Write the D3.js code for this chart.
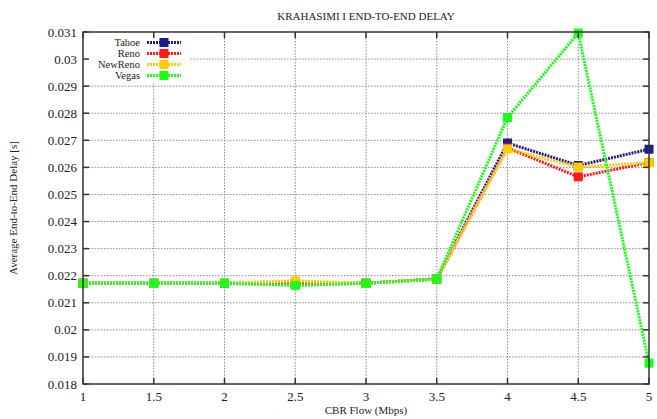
<!DOCTYPE html>
<html>
<head>
<meta charset="utf-8">
<script src="https://cdn.jsdelivr.net/npm/d3@7"></script>
<style>
  body { margin: 0; background: #fff; }
  text { font-family: "Liberation Serif", "Times New Roman", serif; fill: #222; }
</style>
</head>
<body>
<svg id="graphe" width="657" height="419"></svg>
<script>
"use strict";

// données
var debits = [1, 1.5, 2, 2.5, 3, 3.5, 4, 4.5, 5];
var tahoe   = [0.02172, 0.02172, 0.02172, 0.02170, 0.02172, 0.02188, 0.02690, 0.02607, 0.02667];
var reno    = [0.02172, 0.02172, 0.02172, 0.02172, 0.02172, 0.02188, 0.02672, 0.02565, 0.02618];
var newReno = [0.02172, 0.02172, 0.02173, 0.02181, 0.02172, 0.02188, 0.02668, 0.02601, 0.02617];
var vegas   = [0.02172, 0.02172, 0.02172, 0.02164, 0.02172, 0.02188, 0.02784, 0.03096, 0.01877];

var nomsSeries = ["Tahoe", "Reno", "NewReno", "Vegas"];
var couleurs = ["#1c1c8a", "#ff1a1a", "#ffcc00", "#1aff1a"];
var ticksX = [1, 1.5, 2, 2.5, 3, 3.5, 4, 4.5, 5];
var ticksY = [0.018, 0.019, 0.02, 0.021, 0.022, 0.023, 0.024, 0.025, 0.026, 0.027, 0.028, 0.029, 0.03, 0.031];

var series = [tahoe, reno, newReno, vegas];

var svg = d3.select("#graphe");
var gauche = 83, droite = 649, haut = 32, bas = 384;

var x = d3.scaleLinear().domain([1, 5]).range([gauche, droite]);
var y = d3.scaleLinear().domain([0.018, 0.031]).range([bas, haut]);

// grille en pointillés
var grille = svg.append("g");
grille.selectAll("line.gx").data(ticksX.slice(1, -1)).enter().append("line")
    .attr("x1", function(d) { return x(d); }).attr("x2", function(d) { return x(d); })
    .attr("y1", haut).attr("y2", bas)
    .attr("stroke", "#8a8a8a").attr("stroke-width", 1).attr("stroke-dasharray", "1.5,1.5");
grille.selectAll("line.gy").data(ticksY.slice(1, -1)).enter().append("line")
    .attr("x1", gauche).attr("x2", droite)
    .attr("y1", function(d) { return y(d); }).attr("y2", function(d) { return y(d); })
    .attr("stroke", "#8a8a8a").attr("stroke-width", 1).attr("stroke-dasharray", "1.5,1.5");

// zone de la légende (masque la grille)
svg.append("rect").attr("x", gauche + 1).attr("y", haut + 1).attr("width", 105).attr("height", 49).attr("fill", "#fff");

// courbes
var ligne = d3.line()
    .x(function(d, i) { return x(debits[i]); })
    .y(function(d) { return y(d); });

series.forEach(function(valeurs, k) {
    svg.append("path").datum(valeurs)
        .attr("d", ligne)
        .attr("fill", "none")
        .attr("stroke", couleurs[k])
        .attr("stroke-width", 3)
        .attr("stroke-dasharray", "2,1");
    svg.append("g").selectAll("rect").data(valeurs).enter().append("rect")
        .attr("x", function(d, i) { return x(debits[i]) - 4.5; })
        .attr("y", function(d) { return y(d) - 4.5; })
        .attr("width", 9).attr("height", 9)
        .attr("fill", couleurs[k]);
});

// cadre et graduations
var axes = svg.append("g");
axes.append("rect").attr("x", gauche).attr("y", haut).attr("width", droite - gauche).attr("height", bas - haut)
    .attr("fill", "none").attr("stroke", "#333").attr("stroke-width", 1.5);

ticksX.forEach(function(t) {
    axes.append("line").attr("x1", x(t)).attr("x2", x(t)).attr("y1", bas).attr("y2", bas - 6).attr("stroke", "#333").attr("stroke-width", 1.5);
    axes.append("line").attr("x1", x(t)).attr("x2", x(t)).attr("y1", haut).attr("y2", haut + 6).attr("stroke", "#333").attr("stroke-width", 1.5);
    axes.append("text").attr("x", x(t)).attr("y", 401).attr("text-anchor", "middle").attr("font-size", 13).text(t);
});
ticksY.forEach(function(t) {
    axes.append("line").attr("x1", gauche).attr("x2", gauche + 6).attr("y1", y(t)).attr("y2", y(t)).attr("stroke", "#333").attr("stroke-width", 1.5);
    axes.append("line").attr("x1", droite).attr("x2", droite - 6).attr("y1", y(t)).attr("y2", y(t)).attr("stroke", "#333").attr("stroke-width", 1.5);
    axes.append("text").attr("x", 77).attr("y", y(t) + 4.5).attr("text-anchor", "end").attr("font-size", 13).text(+t.toFixed(3));
});

// titres
svg.append("text").attr("x", 366).attr("y", 20).attr("text-anchor", "middle").attr("font-size", 11).text("KRAHASIMI I END-TO-END DELAY");
svg.append("text").attr("x", 366).attr("y", 414).attr("text-anchor", "middle").attr("font-size", 11).text("CBR Flow (Mbps)");
svg.append("text").attr("transform", "translate(17," + ((haut + bas) / 2) + ") rotate(-90)")
    .attr("text-anchor", "middle").attr("font-size", 11).text("Average End-to-End Delay [s]");

// légende
nomsSeries.forEach(function(nom, k) {
    var yl = 42.5 + k * 11;
    var gl = svg.append("g");
    gl.append("text").attr("x", 140).attr("y", yl + 3.5).attr("text-anchor", "end").attr("font-size", 10.5).text(nom);
    gl.append("line").attr("x1", 147).attr("x2", 181).attr("y1", yl).attr("y2", yl)
        .attr("stroke", couleurs[k]).attr("stroke-width", 3).attr("stroke-dasharray", "2,1");
    gl.append("rect").attr("x", 164 - 4.5).attr("y", yl - 4.5).attr("width", 9).attr("height", 9).attr("fill", couleurs[k]);
});
</script>
</body>
</html>
